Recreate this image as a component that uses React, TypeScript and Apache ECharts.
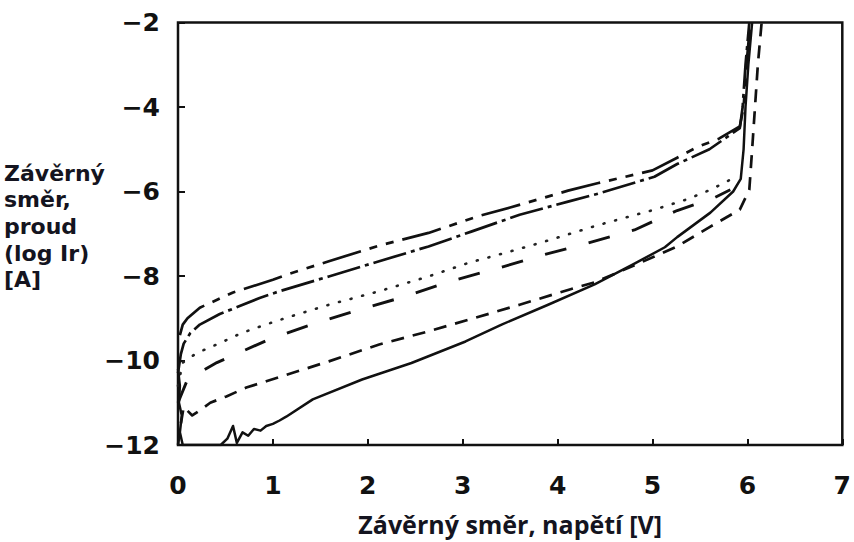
import React, { useEffect, useRef } from 'react';
import * as echarts from 'echarts';

// Axis ticks and labels
const xTicks = [0, 1, 2, 3, 4, 5, 6, 7];
const xTickLabels = ['0', '1', '2', '3', '4', '5', '6', '7'];
const yTicks = [-12, -10, -8, -6, -4, -2];
const yTickLabels = ['−12', '−10', '−8', '−6', '−4', '−2'];

const xTitle = 'Závěrný směr, napětí [V]';
const yTitleLines = ['Závěrný', 'směr,', 'proud', '(log Ir)', '[A]'];

// Curves: [voltage V, log Ir]
const curveDashDotDot: [number, number][] = [
  [0.02, -9.4], [0.05, -9.15], [0.1, -9.0], [0.23, -8.75], [0.58, -8.39], [1.0, -8.09],
  [1.17, -7.95], [1.59, -7.65], [2.12, -7.28], [2.64, -6.98], [3.17, -6.58], [3.5, -6.38],
  [4.11, -5.98], [4.43, -5.8], [5.0, -5.5], [5.26, -5.2], [5.47, -4.95], [5.7, -4.75],
  [5.92, -4.46], [5.96, -4.0], [5.99, -3.0], [6.03, -2.0],
];
const curveDashDot: [number, number][] = [
  [0.0, -10.3], [0.03, -9.85], [0.06, -9.6], [0.13, -9.35], [0.23, -9.15], [0.44, -8.9],
  [0.86, -8.52], [1.07, -8.36], [1.59, -8.01], [2.12, -7.65], [2.64, -7.3], [3.09, -6.95],
  [3.6, -6.55], [4.11, -6.24], [4.43, -6.05], [5.02, -5.65], [5.26, -5.35], [5.6, -5.0],
  [5.92, -4.5], [5.95, -4.0], [5.98, -3.0], [6.02, -2.0],
];
const curveDotted: [number, number][] = [
  [0.0, -10.6], [0.05, -10.05], [0.2, -9.82], [0.44, -9.59], [0.67, -9.35], [0.91, -9.16],
  [1.14, -8.99], [1.59, -8.68], [2.12, -8.36], [2.64, -8.01], [3.06, -7.69], [3.5, -7.42],
  [3.93, -7.14], [4.42, -6.8], [5.02, -6.43], [5.37, -6.18], [5.61, -5.96], [5.82, -5.72],
];
const curveLongDash: [number, number][] = [
  [0.0, -11.0], [0.1, -10.45], [0.41, -10.05], [0.96, -9.5], [1.42, -9.14], [1.91, -8.8],
  [2.4, -8.48], [2.88, -8.12], [3.38, -7.81], [3.85, -7.5], [4.32, -7.22], [4.81, -6.91],
  [5.26, -6.45], [5.65, -6.15], [5.82, -5.96],
];
const curveDashed: [number, number][] = [
  [0.0, -12.0], [0.03, -11.5], [0.06, -11.1], [0.15, -11.3], [0.25, -11.15], [0.34, -11.0],
  [0.51, -10.85], [0.72, -10.64], [0.93, -10.49], [1.1, -10.37], [1.59, -10.02], [2.12, -9.62],
  [2.64, -9.31], [3.13, -8.99], [3.6, -8.68], [4.11, -8.33], [4.39, -8.15], [4.6, -7.95],
  [5.02, -7.54], [5.26, -7.3], [5.61, -6.83], [5.92, -6.43], [6.02, -5.96], [6.05, -5.0],
  [6.08, -4.0], [6.11, -3.0], [6.15, -2.0],
];
const curveSolid: [number, number][] = [
  [0.0, -10.2], [0.02, -10.6], [0.01, -11.0], [0.04, -11.3], [0.02, -11.7], [0.05, -12.0],
  [0.45, -12.0], [0.52, -11.85], [0.58, -11.55], [0.62, -11.95], [0.68, -11.7], [0.74, -11.78],
  [0.8, -11.62], [0.87, -11.66], [0.93, -11.55], [1.0, -11.5], [1.07, -11.42], [1.14, -11.33],
  [1.42, -10.92], [1.94, -10.45], [2.46, -10.06], [3.03, -9.55], [3.41, -9.15], [3.9, -8.68],
  [4.39, -8.2], [4.8, -7.72], [5.13, -7.32], [5.26, -7.08], [5.61, -6.5], [5.85, -6.0],
  [5.93, -5.7], [5.96, -5.0], [5.98, -4.0], [6.01, -3.0], [6.05, -2.0],
];

const INK = '#111111';
const labelFont = { fontFamily: 'DejaVu Sans', fontWeight: 'bold' as const, fontSize: 25, color: INK };
const titleColor = '#141420';

export default function App() {
  const ref = useRef<HTMLDivElement>(null);

  useEffect(() => {
    if (!ref.current) return;
    const chart = echarts.init(ref.current, undefined, { renderer: 'svg' });

    const mkLine = (data: [number, number][], type: any, width: number, color = INK, cap: any = 'butt') => ({
      type: 'line',
      data,
      showSymbol: false,
      symbol: 'none',
      smooth: false,
      lineStyle: { color, width, type, cap, join: 'round' },
      silent: true,
    });

    chart.setOption({
      animation: false,
      backgroundColor: '#ffffff',
      grid: {
        left: 178,
        top: 22.5,
        width: 668,
        height: 422.5,
        show: true,
        borderColor: INK,
        borderWidth: 2.5,
        backgroundColor: 'transparent',
      },
      xAxis: {
        type: 'value',
        min: 0,
        max: 7,
        interval: 1,
        name: xTitle,
        nameLocation: 'middle',
        nameGap: 66,
        nameTextStyle: { fontFamily: 'Open Sans', fontWeight: 'bold', fontSize: 25, color: titleColor },
        axisLine: { show: false },
        axisTick: { show: true, inside: true, length: 6, lineStyle: { color: INK, width: 2 } },
        splitLine: { show: false },
        axisLabel: {
          ...labelFont,
          margin: 28,
          formatter: (v: number) => xTickLabels[xTicks.indexOf(v)] ?? '',
        },
      },
      yAxis: {
        type: 'value',
        min: -12,
        max: -2,
        interval: 2,
        axisLine: { show: false },
        axisTick: { show: true, inside: true, length: 7, lineStyle: { color: INK, width: 2 } },
        splitLine: { show: false },
        axisLabel: {
          ...labelFont,
          margin: 18,
          padding: [8, 0, 0, 0],
          formatter: (v: number) => yTickLabels[yTicks.indexOf(v)] ?? '',
        },
      },
      graphic: yTitleLines.map((line, i) => ({
        type: 'text',
        left: 4,
        top: 162 + i * 26.7,
        style: {
          text: line,
          fontFamily: 'DejaVu Sans',
          fontWeight: 'bold',
          fontSize: 22,
          fill: titleColor,
          align: 'left',
        },
      })),
      series: [
        mkLine(curveDashDotDot, [40, 9, 8, 9, 8, 9], 2.7),
        mkLine(curveDashDot, [34, 5, 4, 5], 2.7),
        mkLine(curveDotted, [1, 11], 2.6, '#222222', 'round'),
        mkLine(curveLongDash, [22, 23], 2.9),
        mkLine(curveDashed, [13, 9], 2.7),
        mkLine(curveSolid, 'solid', 2.5),
      ],
    });

    return () => chart.dispose();
  }, []);

  return (
    <div
      ref={ref}
      style={{ position: 'fixed', left: 0, top: 0, width: 854, height: 542, background: '#fff' }}
    />
  );
}
